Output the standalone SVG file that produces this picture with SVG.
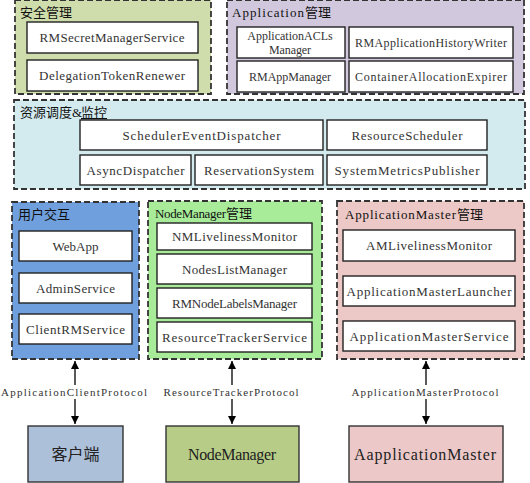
<svg xmlns="http://www.w3.org/2000/svg" width="530" height="483" viewBox="0 0 530 483">
<defs>
<style>
.grp{stroke:#333;stroke-width:1.8;stroke-dasharray:6 3}
.box{fill:#fff;stroke:#222;stroke-width:1.4}
.t{font-family:"Liberation Serif","Noto Sans CJK SC",serif;font-size:13px;fill:#333;text-anchor:middle}
.s{font-size:12px}
.ttl{font-family:"Liberation Serif","Noto Sans CJK SC",serif;font-size:13px;fill:#111}
.cjk{font-family:"Noto Sans CJK SC",sans-serif;font-size:13px;fill:#111}
.lbl{font-family:"Liberation Serif",serif;font-size:11px;fill:#333;text-anchor:middle}
.big{font-family:"Liberation Serif","Noto Sans CJK SC",serif;font-size:16px;fill:#222;text-anchor:middle}
.conn{stroke:#000;stroke-width:1.3;fill:none}
</style>
<marker id="ah" viewBox="0 0 10 10" refX="10" refY="5" markerWidth="10" markerHeight="8" markerUnits="userSpaceOnUse" orient="auto-start-reverse">
<path d="M0,0 L10,5 L0,10 z" fill="#000"/>
</marker>
</defs>
<rect width="530" height="483" fill="#fff"/>

<g id="security">
<rect class="grp" x="15" y="0" width="196" height="94" fill="#cfdcab"/>
<text class="cjk" x="20" y="17">安全管理</text>
<rect class="box" x="27" y="22" width="171" height="31"/>
<text class="t" x="112" y="42" textLength="145" lengthAdjust="spacing">RMSecretManagerService</text>
<rect class="box" x="27" y="60" width="171" height="31"/>
<text class="t" x="112" y="80" textLength="146" lengthAdjust="spacing">DelegationTokenRenewer</text>
</g>

<g id="appmgmt">
<rect class="grp" x="227" y="0" width="297" height="94" fill="#d1c8de"/>
<text class="ttl" x="232" y="17" textLength="72" lengthAdjust="spacing">Application</text>
<text class="cjk" x="305" y="17">管理</text>
<rect class="box" x="237" y="27" width="108" height="31"/>
<text class="t s" x="290" y="39.5">ApplicationACLs</text>
<text class="t s" x="290" y="53.5" textLength="42" lengthAdjust="spacing">Manager</text>
<rect class="box" x="349" y="27" width="164" height="31"/>
<text class="t s" x="431" y="46.5" textLength="152" lengthAdjust="spacing">RMApplicationHistoryWriter</text>
<rect class="box" x="237" y="61" width="108" height="31"/>
<text class="t s" x="290" y="80.5">RMAppManager</text>
<rect class="box" x="349" y="61" width="164" height="31"/>
<text class="t s" x="431" y="80.5" textLength="152" lengthAdjust="spacing">ContainerAllocationExpirer</text>
</g>

<g id="scheduling">
<rect class="grp" x="14" y="100" width="511" height="89" fill="#d3eaef"/>
<text class="cjk" x="20" y="117">资源调度</text>
<text class="ttl" x="72" y="117">&amp;</text>
<text class="cjk" x="81" y="117" text-decoration="underline">监控</text>
<rect class="box" x="80" y="120" width="243" height="30"/>
<text class="t" x="201.5" y="139.5" textLength="158" lengthAdjust="spacing">SchedulerEventDispatcher</text>
<rect class="box" x="327" y="120" width="160" height="30"/>
<text class="t" x="407" y="139.5" textLength="111" lengthAdjust="spacing">ResourceScheduler</text>
<rect class="box" x="80" y="155" width="111" height="30"/>
<text class="t" x="135.5" y="174.5" textLength="98" lengthAdjust="spacing">AsyncDispatcher</text>
<rect class="box" x="195" y="155" width="128" height="30"/>
<text class="t" x="259" y="174.5" textLength="110" lengthAdjust="spacing">ReservationSystem</text>
<rect class="box" x="327" y="155" width="160" height="30"/>
<text class="t" x="407" y="174.5" textLength="145" lengthAdjust="spacing">SystemMetricsPublisher</text>
</g>

<g id="userinteract">
<rect class="grp" x="12" y="202" width="127" height="157" fill="#6f9fdc"/>
<text class="cjk" x="18" y="219">用户交互</text>
<rect class="box" x="19" y="231" width="113" height="30"/>
<text class="t" x="75.5" y="250.5">WebApp</text>
<rect class="box" x="19" y="273" width="113" height="30"/>
<text class="t" x="75.5" y="292.5" textLength="79" lengthAdjust="spacing">AdminService</text>
<rect class="box" x="19" y="314" width="113" height="30"/>
<text class="t" x="75.5" y="333.5" textLength="99" lengthAdjust="spacing">ClientRMService</text>
</g>

<g id="nmmgmt">
<rect class="grp" x="148" y="201" width="174" height="158" fill="#a8ec9a"/>
<text class="ttl" x="155" y="218" textLength="71" lengthAdjust="spacing">NodeManager</text>
<text class="cjk" x="226" y="218">管理</text>
<rect class="box" x="157" y="223" width="155" height="27"/>
<text class="t" x="234.5" y="241" textLength="125" lengthAdjust="spacing">NMLivelinessMonitor</text>
<rect class="box" x="157" y="254" width="155" height="30"/>
<text class="t" x="234.5" y="273.5" textLength="105" lengthAdjust="spacing">NodesListManager</text>
<rect class="box" x="157" y="288" width="155" height="30"/>
<text class="t" x="234.5" y="307.5" textLength="125" lengthAdjust="spacing">RMNodeLabelsManager</text>
<rect class="box" x="157" y="322" width="155" height="30"/>
<text class="t" x="234.5" y="341.5" textLength="145" lengthAdjust="spacing">ResourceTrackerService</text>
</g>

<g id="ammgmt">
<rect class="grp" x="337" y="201" width="187" height="158" fill="#ecc8c6"/>
<text class="ttl" x="345" y="219" textLength="111" lengthAdjust="spacing">ApplicationMaster</text>
<text class="cjk" x="457" y="219">管理</text>
<rect class="box" x="343" y="230" width="172" height="31"/>
<text class="t" x="429" y="250" textLength="126" lengthAdjust="spacing">AMLivelinessMonitor</text>
<rect class="box" x="343" y="276" width="172" height="30"/>
<text class="t" x="429" y="295.5" textLength="165" lengthAdjust="spacing">ApplicationMasterLauncher</text>
<rect class="box" x="343" y="321" width="172" height="30"/>
<text class="t" x="429" y="340.5" textLength="159" lengthAdjust="spacing">ApplicationMasterService</text>
</g>

<g id="client">
<rect x="28" y="426" width="95" height="56" fill="#adc0da" stroke="#333" stroke-width="1.4"/>
<text class="big" x="75.5" y="460" style="font-family:'Noto Sans CJK SC',sans-serif">客户端</text>
</g>
<g id="nodemanager">
<rect x="166" y="426" width="133" height="56" fill="#b7cc86" stroke="#333" stroke-width="1.4"/>
<text class="big" x="232" y="460" textLength="88" lengthAdjust="spacing">NodeManager</text>
</g>
<g id="appmaster">
<rect x="349" y="426" width="154" height="56" fill="#ecc9c8" stroke="#333" stroke-width="1.4"/>
<text class="big" x="425" y="460" textLength="142" lengthAdjust="spacing">AapplicationMaster</text>
</g>

<g id="connectors">
<line class="conn" x1="75" y1="424" x2="75" y2="361" marker-start="url(#ah)" marker-end="url(#ah)"/>
<line class="conn" x1="232" y1="424" x2="232" y2="361" marker-start="url(#ah)" marker-end="url(#ah)"/>
<line class="conn" x1="426" y1="424" x2="426" y2="361" marker-start="url(#ah)" marker-end="url(#ah)"/>
<rect x="0" y="385" width="150" height="14" fill="#fff"/>
<rect x="162" y="385" width="139" height="14" fill="#fff"/>
<rect x="350" y="385" width="152" height="14" fill="#fff"/>
<text class="lbl" x="74" y="396" textLength="146" lengthAdjust="spacing">ApplicationClientProtocol</text>
<text class="lbl" x="231" y="396" textLength="135" lengthAdjust="spacing">ResourceTrackerProtocol</text>
<text class="lbl" x="425" y="396" textLength="147" lengthAdjust="spacing">ApplicationMasterProtocol</text>
</g>
</svg>
